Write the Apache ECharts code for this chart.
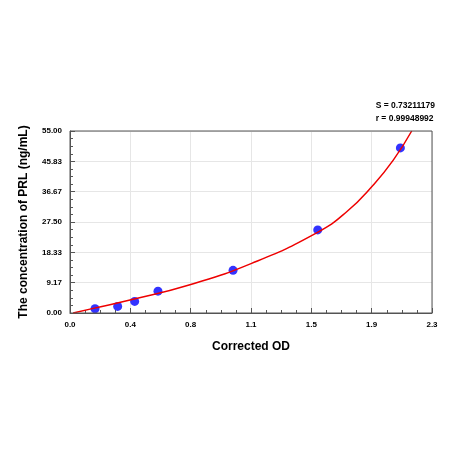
<!DOCTYPE html><html><head><meta charset="utf-8"><script src="https://cdn.jsdelivr.net/npm/echarts@6/dist/echarts.min.js"></script></head><body style="margin:0"><div id="c" style="width:450px;height:450px"></div><script>
const pointsX=[0.159,0.303,0.411,0.559,1.036,1.574,2.099];
const pointsY=[1.3,2.0,3.5,6.6,12.9,25.1,49.9];
const curveX=[0.02,0.148,0.381,0.762,1.154,1.57,1.758,1.927,2.054,2.171];
const curveY=[0,1.4,3.9,8.55,15.0,24.3,30.6,38.7,46.2,55];
const xTicks=['0.0','0.4','0.8','1.1','1.5','1.9','2.3'];
const yTicks=['0.00','9.17','18.33','27.50','36.67','45.83','55.00'];
const ch=echarts.init(document.getElementById('c'));
const ax={fontSize:8,fontWeight:'bold',color:'#000',fontFamily:'Arial'};
ch.setOption({
 graphic:[{type:'text',right:15,top:99,style:{text:'S = 0.73211179\nr = 0.99948992',fontSize:8.5,fontWeight:'bold',fontFamily:'Arial',align:'right',lineHeight:13,fill:'#000'}},
 {type:'rect',shape:{x:70,y:131,width:362,height:182},style:{fill:'none',stroke:'#555',lineWidth:1},z:10}],
 grid:{left:70,right:18,top:131,bottom:137},
 xAxis:{type:'value',min:0,max:2.3,interval:2.3/6,name:'Corrected OD',nameLocation:'middle',nameGap:28,
  nameTextStyle:{fontSize:12,fontWeight:'bold',color:'#000',fontFamily:'Arial'},
  axisLabel:{...ax,formatter:v=>xTicks[Math.round(v/(2.3/6))]},
  axisLine:{lineStyle:{color:'#555'}},axisTick:{inside:true,lineStyle:{color:'#555'}},minorTick:{show:true,splitNumber:4},
  splitLine:{lineStyle:{color:'#e6e6e6'}}},
 yAxis:{type:'value',min:0,max:55,interval:55/6,name:'The concentration of PRL (ng/mL)',nameLocation:'middle',nameGap:40,
  nameTextStyle:{fontSize:12,fontWeight:'bold',color:'#000',fontFamily:'Arial'},
  axisLabel:{...ax,formatter:v=>yTicks[Math.round(v/(55/6))]},
  axisLine:{show:true,lineStyle:{color:'#555'}},axisTick:{inside:true,lineStyle:{color:'#555'}},minorTick:{show:true,splitNumber:4},
  splitLine:{lineStyle:{color:'#e6e6e6'}}},
 series:[{type:'line',smooth:0.5,symbol:'none',data:curveX.map((x,i)=>[x,curveY[i]]),lineStyle:{color:'#ee0000',width:1.5},z:3},
  {type:'scatter',symbolSize:9,data:pointsX.map((x,i)=>[x,pointsY[i]]),itemStyle:{color:'#0000ff'},z:2}]
});
</script></body></html>
